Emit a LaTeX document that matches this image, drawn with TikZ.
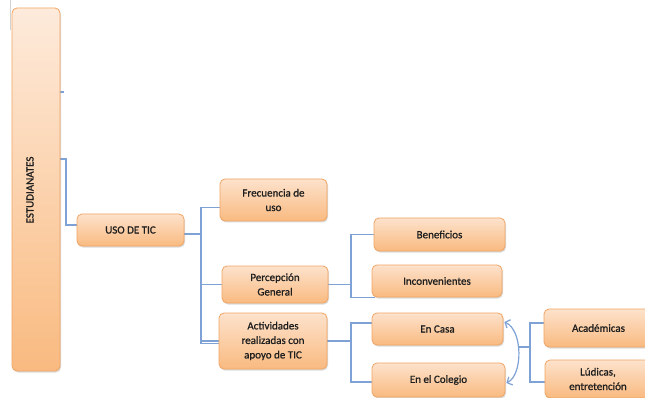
\documentclass[tikz,border=0pt]{standalone}
\usepackage{fontspec}
\setmainfont{Carlito}
\newfontfamily\boxfont{Carlito}[RawFeature={embolden=0.9}]
\usetikzlibrary{shadows,backgrounds,arrows.meta}
\pgfdeclarelayer{paper}
\pgfsetlayers{paper,background,main}
\definecolor{boxtop}{HTML}{FDE2CC}
\definecolor{boxbot}{HTML}{F9BA80}
\definecolor{boxline}{HTML}{F0A565}
\definecolor{linkblue}{HTML}{7EA2D6}
\definecolor{txt}{HTML}{1E1E1E}
\tikzset{
  box/.style={draw=boxline, line width=0.8pt, rounded corners=5pt,
    top color=boxtop, bottom color=boxbot, inner sep=0pt, align=center,
    text=txt, font=\boxfont\fontsize{11}{14.5}\selectfont,
    drop shadow={opacity=0.28, shadow xshift=1pt, shadow yshift=-1.5pt}},
  conn/.style={draw=linkblue, line width=1.2pt},
  barb/.style={{Straight Barb[length=4pt,width=9pt]}-{Straight Barb[length=4pt,width=9pt]}},
}
% place a box by its corners (x1,y1,x2,y2), y measured downward
\newcommand{\boxat}[6]{%
  \node[box, minimum width={(#4-#2)*1pt}, minimum height={(#5-#3)*1pt}]
    (#1) at ({(#2+#4)/2},{(#3+#5)/2}) {#6};}
\begin{document}
\begin{tikzpicture}[x=1pt,y=-1pt]
\clip (0,0) rectangle (645,398);
\begin{pgfonlayer}{paper}
  \fill[white] (0,0) rectangle (645,398);
  \draw[gray!35, line width=0.6pt] (10.5,0) -- (10.5,30);
\end{pgfonlayer}

\node[box, minimum width=48pt, minimum height=363pt,
      top color=boxtop!70!white, bottom color=boxbot]
  (estud) at (36,189.5) {};
\node[text=txt, font=\boxfont\fontsize{11}{13}\selectfont, rotate=90] (estudtxt) at (30,190) {ESTUDIANATES};

\boxat{uso}{77}{214}{184}{246}{USO DE TIC}
\boxat{frec}{220}{179}{327}{221}{Frecuencia de\\uso}
\boxat{perc}{222}{266}{328}{303}{Percepción\\General}
\boxat{activ}{219}{313}{327}{369}{Actividades\\realizadas con\\apoyo de TIC}
\boxat{benef}{374}{218}{505}{251}{Beneficios}
\boxat{incon}{372}{265}{502}{297}{Inconvenientes}
\boxat{casa}{372}{313}{503}{345}{En Casa}
\boxat{colegio}{372}{363}{505}{397}{En el Colegio}
\boxat{acad}{544}{309}{653}{347}{Académicas}
\boxat{ludic}{545}{360}{651}{398}{Lúdicas,\\entretención}

\begin{scope}[on background layer]
  % junction columns
  \coordinate (t1) at (63.5,92);
  \coordinate (b1) at (66,159);
  \coordinate (j1) at (201,207.5);
  \coordinate (j1b) at (201,343.5);
  \coordinate (j2) at (351,0);
  \coordinate (mid) at (518,347);
  \coordinate (j4) at (530,0);

  \draw[conn] (estud.east |- t1) -- (t1);
  \draw[conn] (estud.east |- b1) -- (b1) |- ([yshift=5pt]uso.west);

  \coordinate (uo) at ([yshift=-4pt]uso.east);
  \draw[conn] (uo) -- (uo -| j1);
  \draw[conn] ([yshift=-7.5pt]frec.west) -- (j1) -- (j1b) -- ([yshift=-2.5pt]activ.west);
  \draw[conn] (perc.west) -- (perc.west -| j1);
  \draw[conn] (activ.west) -- (activ.west -| j1);

  \draw[conn] (perc.east) -- (perc.east -| j2);
  \draw[conn] (benef.west) -- (benef.west -| j2) -- (j2 |- incon.south)
              -- ([xshift=3pt]incon.south west);

  \draw[conn] (activ.east) -- (activ.east -| j2);
  \draw[conn] ([yshift=6pt]casa.west) -| (j2 |- activ.east)
              |- ([yshift=-2pt]colegio.west);
\end{scope}

% brace-like arc joining the two places
\draw[conn, barb]
  ([yshift=7pt,xshift=1pt]casa.east) .. controls (523,330) and (523,375)
  .. ([yshift=-3pt,xshift=1pt]colegio.east);
\begin{scope}[on background layer]
  \draw[conn] (mid) -- (mid -| j4);
  \draw[conn] ([yshift=5pt]acad.west) -| (mid -| j4) |- ([yshift=-3pt]ludic.west);
\end{scope}
\end{tikzpicture}
\end{document}
